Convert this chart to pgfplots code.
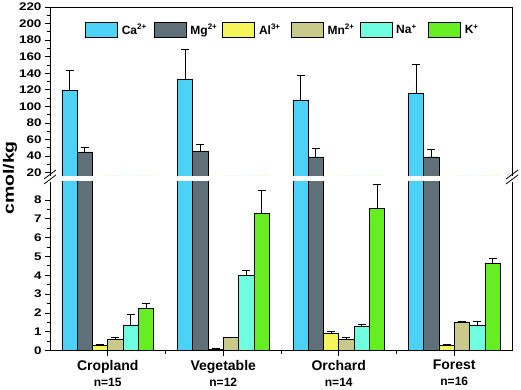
\documentclass[border=0pt]{standalone}
\usepackage{pgfplots}
\pgfplotsset{compat=1.18}
\usepackage{pgfplotstable}
\usepackage{fontspec}
\setmainfont{Liberation Sans}
\usepackage{graphicx}
\definecolor{caC}{HTML}{4DD2F7}
\definecolor{mgC}{HTML}{5F7078}
\definecolor{alC}{HTML}{F5F55A}
\definecolor{mnC}{HTML}{C9C98A}
\definecolor{naC}{HTML}{6FFFE0}
\definecolor{kC}{HTML}{66EE22}

\pgfplotstableread{
x Ca Caerr Mg Mgerr Al Alerr Mn Mnerr Na Naerr K Kerr
1 119.5 23.5 45 5 0.27 0.05 0.62 0.06 1.37 0.57 2.25 0.25
2 132.5 36 46 8 0.09 0.03 0.69 0.03 4.0 0.27 7.27 1.26
3 107.5 30 39 10 0.93 0.07 0.62 0.06 1.31 0.06 7.56 1.24
4 115.5 35 39 9 0.30 0.02 1.52 0.03 1.33 0.25 4.64 0.26
}\datatable

\pgfplotsset{
  legbox/.style={legend image code/.code={\draw[##1,draw=black,line width=0.6pt] (0pt,-7.5pt) rectangle (32pt,7.5pt);}},
  mybase/.style={
    scale only axis, width=462pt,
    xmin=0.5, xmax=4.5,
    ybar=0pt, bar width=15.3pt,
    axis y line*=box, y axis line style={-}, x axis line style={-},
    axis line style={line width=0.8pt, black},
    ytick pos=left,
    tick align=outside,
    major tick length=5pt, minor tick length=3pt,
    tick style={line width=0.8pt, black},
    minor y tick num=1,
    /pgf/number format/assume math mode=true,
    tick label style={font=\bfseries\fontsize{11}{13}\selectfont},
    yticklabel={\scalebox{1.22}[1]{\pgfmathprintnumber{\tick}}},
    error bars/y dir=plus, error bars/y explicit,
    error bars/error bar style={line width=0.8pt, black},
    error bars/error mark options={black, line width=0.8pt, mark size=4pt, rotate=90},
    every axis plot/.append style={draw=black, line width=0.6pt},
  },
}

\begin{document}
\begin{tikzpicture}[font=\bfseries]
\path[use as bounding box] (0pt,0pt) rectangle (521pt,390pt);

% bottom axis
\begin{axis}[mybase,
  at={(50pt,39.3pt)}, anchor=south west,
  height=168.7pt,
  ymin=0, ymax=8.95,
  ytick={0,1,...,8},
  axis x line*=bottom,
  xtick={1,2,3,4},
  minor xtick={1.5,2.5,3.5},
  xticklabels={
    {\fontsize{14}{16}\selectfont Cropland\\[3pt]\fontsize{12}{14}\selectfont n=15},
    {\fontsize{14}{16}\selectfont Vegetable\\[3pt]\fontsize{12}{14}\selectfont n=12},
    {\fontsize{14}{16}\selectfont Orchard\\[3pt]\fontsize{12}{14}\selectfont n=14},
    {\fontsize{14}{16}\selectfont Forest\\[3pt]\fontsize{12}{14}\selectfont n=16}},
  xticklabel style={align=center, yshift=-1pt},
]
\addplot[fill=caC] table[x=x, y=Ca, y error=Caerr] {\datatable};
\addplot[fill=mgC] table[x=x, y=Mg, y error=Mgerr] {\datatable};
\addplot[fill=alC] table[x=x, y=Al, y error=Alerr] {\datatable};
\addplot[fill=mnC] table[x=x, y=Mn, y error=Mnerr] {\datatable};
\addplot[fill=naC] table[x=x, y=Na, y error=Naerr] {\datatable};
\addplot[fill=kC] table[x=x, y=K, y error=Kerr] {\datatable};
\end{axis}

% top axis
\begin{axis}[mybase,
  at={(50pt,214pt)}, anchor=south west,
  height=169pt,
  ymin=16, ymax=220,
  ytick={20,40,...,220},
  axis x line*=top,
  xtick=\empty,
  legend columns=6,
  legend style={at={(axis description cs:0.0758,0.911)}, anchor=north west,
    draw=none, fill=none, inner sep=0pt,
    font=\bfseries\fontsize{12}{14}\selectfont,
    /tikz/every even column/.append style={column sep=4pt},
    /tikz/every odd column/.append style={column sep=2pt}},
]
\addplot[fill=caC, legbox] table[x=x, y=Ca, y error=Caerr] {\datatable};
\addlegendentry{\makebox[26pt][l]{Ca\textsuperscript{2+}}}
\addplot[fill=mgC, legbox] table[x=x, y=Mg, y error=Mgerr] {\datatable};
\addlegendentry{\makebox[26pt][l]{Mg\textsuperscript{2+}}}
\addplot[fill=alC, legbox] table[x=x, y=Al, y error=Alerr] {\datatable};
\addlegendentry{\makebox[26pt][l]{Al\textsuperscript{3+}}}
\addplot[fill=mnC, legbox] table[x=x, y=Mn, y error=Mnerr] {\datatable};
\addlegendentry{\makebox[26pt][l]{Mn\textsuperscript{2+}}}
\addplot[fill=naC, legbox] table[x=x, y=Na, y error=Naerr] {\datatable};
\addlegendentry{\makebox[26pt][l]{Na\textsuperscript{+}}}
\addplot[fill=kC, legbox] table[x=x, y=K, y error=Kerr] {\datatable};
\addlegendentry{\makebox[18pt][l]{K\textsuperscript{+}}}
\end{axis}

% y label
\node[rotate=90] at (10pt,212pt) {\fontsize{15}{17}\selectfont\scalebox{1.3}[1]{cmol/kg}};
% break marks
\draw[line width=0.8pt] (44pt,206pt) -- (56pt,215pt);
\draw[line width=0.8pt] (44pt,211pt) -- (56pt,220pt);
\draw[line width=0.8pt] (506pt,206pt) -- (518pt,215pt);
\draw[line width=0.8pt] (506pt,211pt) -- (518pt,220pt);
\end{tikzpicture}
\end{document}
